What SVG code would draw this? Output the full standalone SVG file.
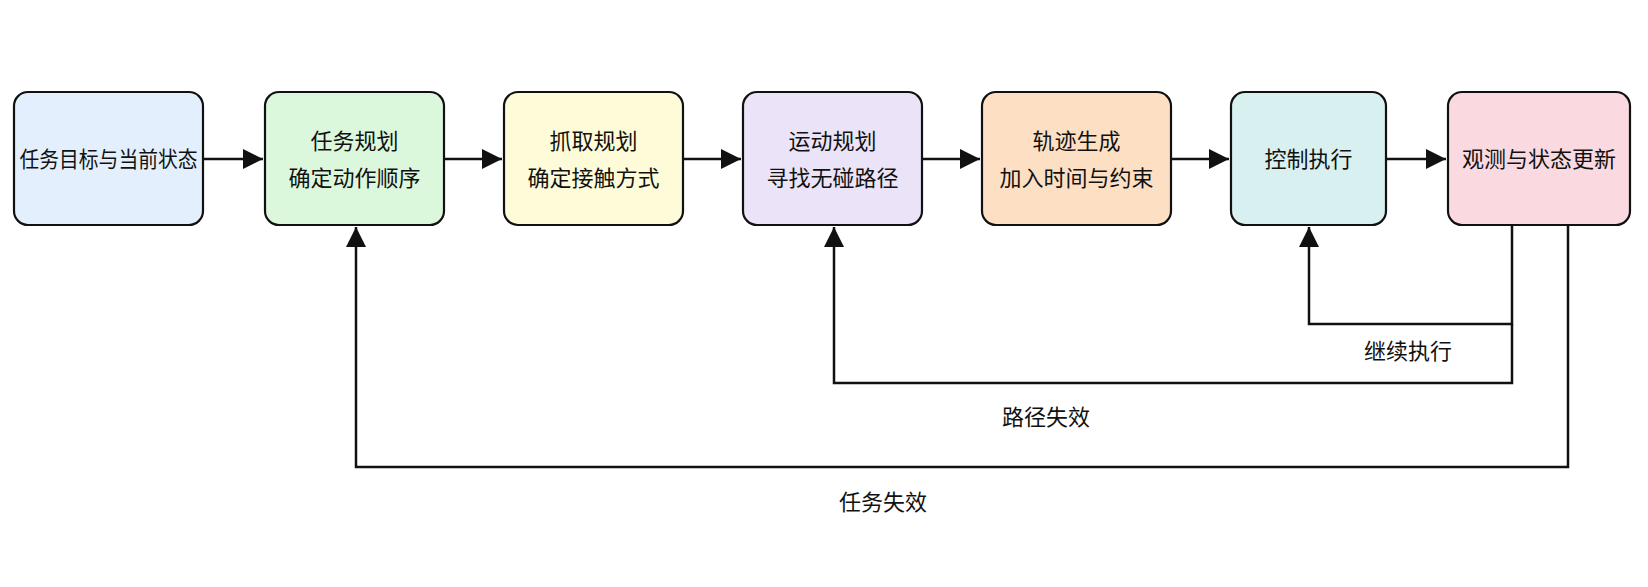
<svg xmlns="http://www.w3.org/2000/svg" width="1648" height="587" viewBox="0 0 1648 587">
<style>
.n{stroke:#111;stroke-width:2.2}
.t{font-family:"Noto Sans CJK SC",sans-serif;font-size:22px;fill:#111;text-anchor:middle}
.c{stroke:#111;stroke-width:2.5;fill:none}
</style>
<defs><marker id="b" viewBox="0 0 10 10" refX="10" refY="5" markerWidth="8" markerHeight="8" orient="auto"><path d="M0,0L10,5L0,10z" fill="#111"/></marker></defs>
<rect width="1648" height="587" fill="#fff"/>
<g id="n1"><rect class="n" x="14" y="92" width="189" height="133" rx="14" fill="#e3effc"/><text class="t" x="108.5" y="167" textLength="178" lengthAdjust="spacingAndGlyphs">任务目标与当前状态</text></g>
<g id="n2"><rect class="n" x="265" y="92" width="179" height="133" rx="14" fill="#dcf8dc"/><text class="t" x="354.5" y="149">任务规划</text><text class="t" x="354.5" y="186">确定动作顺序</text></g>
<g id="n3"><rect class="n" x="504" y="92" width="179" height="133" rx="14" fill="#fdfbd8"/><text class="t" x="593.5" y="149">抓取规划</text><text class="t" x="593.5" y="186">确定接触方式</text></g>
<g id="n4"><rect class="n" x="743" y="92" width="179" height="133" rx="14" fill="#ebe4f8"/><text class="t" x="832.5" y="149">运动规划</text><text class="t" x="832.5" y="186">寻找无碰路径</text></g>
<g id="n5"><rect class="n" x="982" y="92" width="189" height="133" rx="14" fill="#fde0c4"/><text class="t" x="1076.5" y="149">轨迹生成</text><text class="t" x="1076.5" y="186">加入时间与约束</text></g>
<g id="n6"><rect class="n" x="1231" y="92" width="155" height="133" rx="14" fill="#d8f0f0"/><text class="t" x="1308.5" y="167">控制执行</text></g>
<g id="n7"><rect class="n" x="1448" y="92" width="182" height="133" rx="14" fill="#fbd9e0"/><text class="t" x="1539" y="167">观测与状态更新</text></g>
<g id="connectors">
<path class="c" marker-end="url(#b)" d="M203,159H263"/>
<path class="c" marker-end="url(#b)" d="M444,159H502"/>
<path class="c" marker-end="url(#b)" d="M683,159H741"/>
<path class="c" marker-end="url(#b)" d="M922,159H980"/>
<path class="c" marker-end="url(#b)" d="M1171,159H1229"/>
<path class="c" marker-end="url(#b)" d="M1386,159H1446"/>
<path class="c" marker-end="url(#b)" d="M1512,225V324H1309V227"/>
<path class="c" marker-end="url(#b)" d="M1512,324V383H834V227"/>
<path class="c" marker-end="url(#b)" d="M1568,225V467H356V227"/>
</g>
<text class="t" x="1408" y="359">继续执行</text>
<text class="t" x="1046" y="425">路径失效</text>
<text class="t" x="883" y="510">任务失效</text>
</svg>
